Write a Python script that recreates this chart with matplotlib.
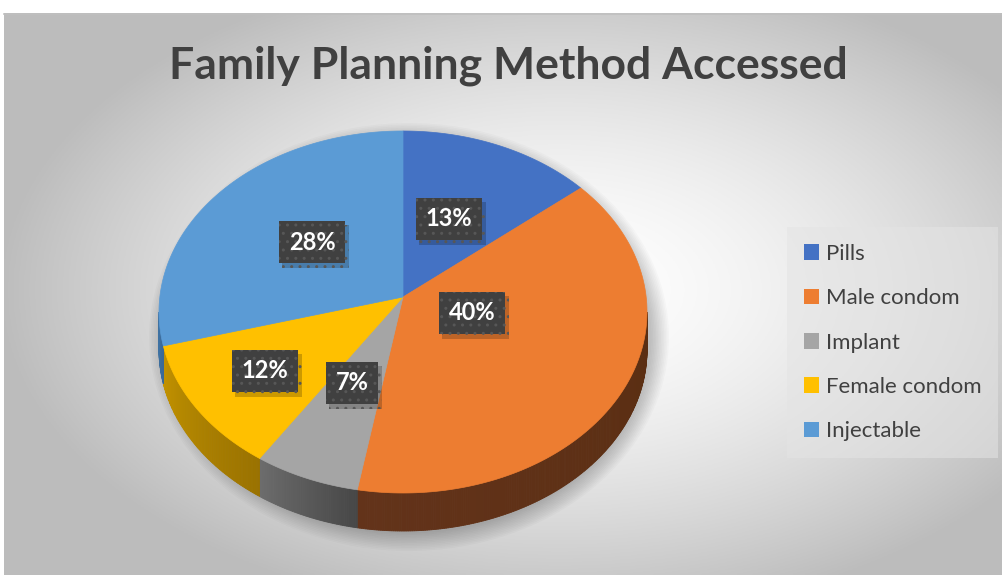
import numpy as np
import matplotlib.pyplot as plt
import matplotlib.patheffects as pe
from matplotlib.colors import to_rgb
from matplotlib.patches import Ellipse, Patch

methods = ['Pills', 'Male condom', 'Implant', 'Female condom', 'Injectable']
shares = [13, 40, 7, 12, 28]
top_colors = ['#4472C4', '#ED7D31', '#A5A5A5', '#FFC000', '#5B9BD5']
side_light = ['#2f5597', '#63331a', '#6c6c6c', '#c29200', '#3f72a3']
side_dark = ['#2a4c86', '#5a2e12', '#474747', '#9a7200', '#3a6896']
label_pos = [(449, 219), (472, 313), (352, 383), (265, 371), (312, 242)]

plt.rcParams['font.family'] = ['Lato', 'DejaVu Sans']

W, H = 1002, 575
fig = plt.figure(figsize=(W / 100, H / 100), dpi=100)
ax = fig.add_axes([0, 0, 1, 1])
ax.set_xlim(0, W)
ax.set_ylim(H, 0)
ax.axis('off')

# background radial gradient
xx, yy = np.meshgrid(np.linspace(4, W, 400), np.linspace(13, H, 240))
d = np.sqrt(((xx - 560) / 560) ** 2 + ((yy - 290) / 330) ** 2)
g = np.clip(1.0 - 0.26 * d ** 1.6, 0.74, 1.0)
ax.imshow(np.dstack([g, g, g]), extent=(4, W, H, 13), aspect='auto', zorder=0)
ax.plot([4, W], [13.5, 13.5], color='#bfbfbf', lw=1.2, zorder=1)

# pie geometry (pixel coords)
cx, cy, a, b = 403, 312, 244, 181
apx, apy = 403, 297
depth = 38

# soft shadow
for k in range(12):
    ax.add_patch(Ellipse((cx + 6, cy + depth / 2 + 6), 2 * (a + 16 - k * 1.6),
                         2 * (b + depth / 2 + 14 - k * 1.6),
                         color='#000000', alpha=0.018, lw=0, zorder=2))

bounds = np.cumsum([0] + shares) / sum(shares) * 360.0

def rim(t):
    r = np.radians(t)
    return cx + a * np.sin(r), cy - b * np.cos(r)

# sides
for i in range(len(shares)):
    t0, t1 = max(bounds[i], 90), min(bounds[i + 1], 270)
    if t1 <= t0:
        continue
    n = max(int((t1 - t0) * 2), 2)
    ts = np.linspace(t0, t1, n + 1)
    c0 = np.array(to_rgb(side_dark[i]))
    c1 = np.array(to_rgb(side_light[i]))
    for j in range(n):
        xs, ys = rim(ts[j:j + 2])
        f = j / max(n - 1, 1)
        col = c0 * (1 - f) + c1 * f
        ax.fill([xs[0], xs[1], xs[1], xs[0]],
                [ys[0], ys[1], ys[1] + depth, ys[0] + depth],
                color=col, lw=0.6, ec=col, zorder=3)

# top surface
for i in range(len(shares)):
    ts = np.linspace(bounds[i], bounds[i + 1], 200)
    xs, ys = rim(ts)
    ax.fill(np.r_[apx, xs], np.r_[apy, ys], color=top_colors[i], lw=0.5,
            ec=top_colors[i], zorder=4)

# data labels
for i, (lx, ly) in enumerate(label_pos):
    t = ax.text(lx, ly, f'{shares[i]}%', fontsize=17, fontweight='bold',
                color='white', ha='center', va='center', zorder=6,
                bbox=dict(boxstyle='square,pad=0.42', fc='#404040', ec='#575757',
                          lw=0, hatch='..'))
    t.get_bbox_patch().set_path_effects([
        pe.SimplePatchShadow(offset=(2.5, -3), shadow_rgbFace='#000000', alpha=0.2),
        pe.Normal()])

ax.text(508, 66, 'Family Planning Method Accessed', fontsize=32,
        fontweight='bold', color='#404040', ha='center', va='center', zorder=6)

handles = [Patch(facecolor=c, edgecolor='none') for c in top_colors]
leg = ax.legend(handles, methods, loc='upper left',
                bbox_to_anchor=(787 / W, 1 - 227 / H), fontsize=16,
                labelcolor='#404040', frameon=True, fancybox=False,
                handlelength=0.7, handleheight=0.7, handletextpad=0.3,
                labelspacing=1.1, borderpad=0.75, borderaxespad=0)
leg.get_frame().set_facecolor('#e4e4e4')
leg.get_frame().set_alpha(0.55)
leg.get_frame().set_linewidth(0)
leg.set_zorder(7)

fig.savefig('out.png', dpi=100)
